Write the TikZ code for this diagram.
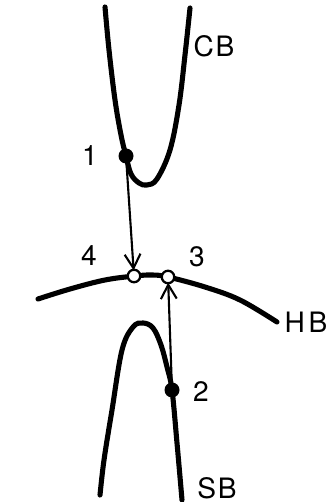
\documentclass[tikz,border=0pt]{standalone}
\usepackage{fontspec}
\setsansfont{TeX Gyre Heros}
\usetikzlibrary{arrows.meta}

\begin{document}
\begin{tikzpicture}[x=0.02cm, y=-0.02cm,
	band/.style={line width=2.9pt, line cap=round},
	filled/.style={circle, fill=black, inner sep=0pt, minimum size=0.3cm},
	open/.style={circle, draw=black, fill=white, line width=1.3pt, inner sep=0pt, minimum size=0.25cm},
	lbl/.style={font=\sffamily\fontsize{16}{16}\selectfont},
	trans/.style={line width=1.2pt, shorten >=-1pt},
	>={Straight Barb[length=8pt, width=9pt]}
	]
	\useasboundingbox (0,0) rectangle (334,502);
	
	% bands
	\draw[band] plot[smooth, tension=0.6] coordinates {(105,7) (109,50) (115,100) (121,135) (126,156) (131,174) (139,183) (147,185) (157,179) (170,150) (179,105) (185,55) (190,8)};
	\draw[band] plot[smooth, tension=0.6] coordinates {(38,299) (70,289) (105,280) (135,276) (152,275) (168,277) (205,287) (240,300) (277,322)};
	\draw[band] plot[smooth, tension=0.6] coordinates {(100,495) (104,460) (112,410) (122,350) (133,327) (143,323) (153,328) (161,345) (167,367) (172,390) (177,443) (182,500)};
	
	% states
	\node[filled] (p1) at (126,156) {};
	\node[filled] (p2) at (172,390) {};
	\node[open] (p4) at (134,276) {};
	\node[open] (p3) at (168,277) {};
	
	\draw[->, trans] (p1.center) -- (p4);
	\draw[->, trans] (p2.center) -- (p3);
	
	\node[lbl] (l1) at (90,156) {1};
	\node[lbl] (l2) at (201,392) {2};
	\node[lbl] (l3) at (197,257) {3};
	\node[lbl] (l4) at (89,256) {4};
	\node[lbl] (cb) at (214,46) {C\kern1pt B};
	\node[lbl] (hb) at (306,322) {H\kern2pt B};
	\node[lbl] (sb) at (217,488) {S\kern1pt B};
\end{tikzpicture}
\end{document}
